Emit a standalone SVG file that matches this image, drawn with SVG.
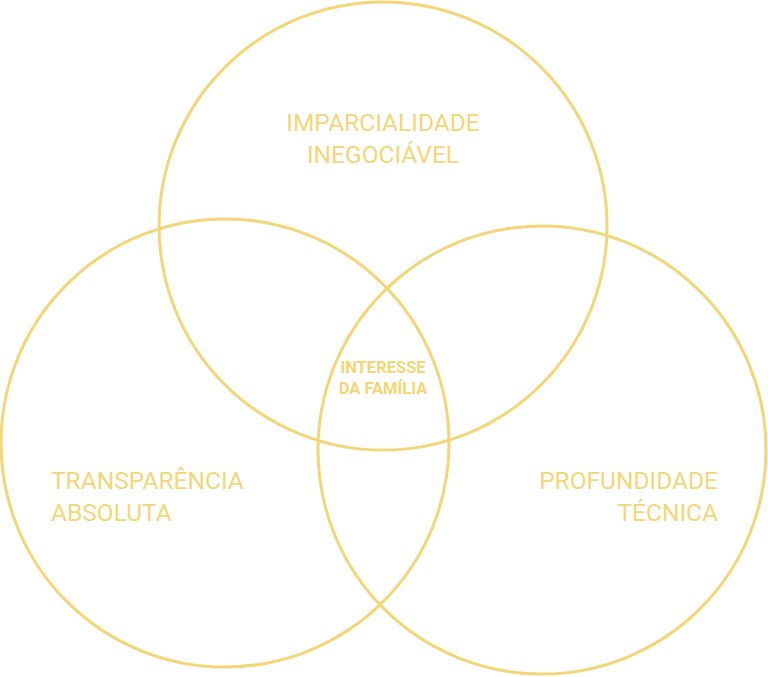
<svg xmlns="http://www.w3.org/2000/svg" width="768" height="677" viewBox="0 0 768 677">
<style>
.c{fill:none;stroke:#F3D677;stroke-width:3}
.t{font-family:Roboto,"Liberation Sans",sans-serif;font-size:24.5px;fill:#F3D677}
.s{font-family:Roboto,"Liberation Sans",sans-serif;font-size:16.5px;font-weight:bold;fill:#F3D677}
</style>
<rect width="768" height="677" fill="#ffffff"/>
<g id="top">
<circle class="c" cx="383" cy="226" r="224"/>
<text class="t" x="383" y="131" text-anchor="middle">IMPARCIALIDADE</text>
<text class="t" x="383" y="163" text-anchor="middle">INEGOCIÁVEL</text>
</g>
<g id="left">
<circle class="c" cx="225" cy="443" r="224"/>
<text class="t" x="51" y="489">TRANSPARÊNCIA</text>
<text class="t" x="51" y="521">ABSOLUTA</text>
</g>
<g id="right">
<circle class="c" cx="542" cy="450" r="224"/>
<text class="t" x="718" y="489" text-anchor="end">PROFUNDIDADE</text>
<text class="t" x="718" y="521" text-anchor="end">TÉCNICA</text>
</g>
<g id="center">
<text class="s" x="383" y="373" text-anchor="middle">INTERESSE</text>
<text class="s" x="383" y="394" text-anchor="middle">DA FAMÍLIA</text>
</g>
<g id="connectors"></g>
</svg>
